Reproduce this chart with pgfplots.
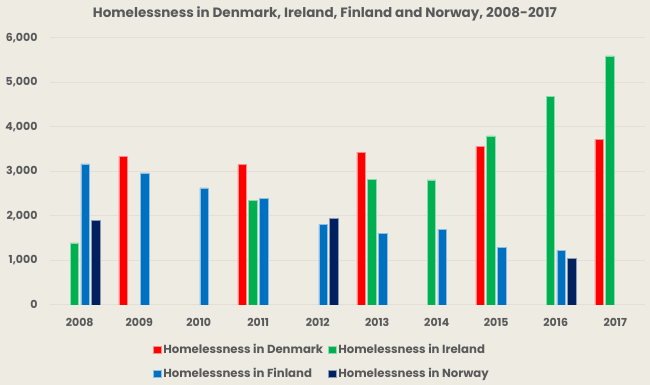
\documentclass[border=0pt]{standalone}
\usepackage{fontspec}
\setmainfont{Poppins}
\usepackage{pgfplots}
\pgfplotsset{compat=1.18}
\definecolor{bgc}{HTML}{EEEBE3}
\definecolor{gridc}{HTML}{E2DFD7}
\definecolor{txt}{HTML}{595959}
\definecolor{cden}{HTML}{FF0000}
\definecolor{cire}{HTML}{00B050}
\definecolor{cfin}{HTML}{0070C0}
\definecolor{cnor}{HTML}{002060}
\begin{document}
\begin{tikzpicture}
\fill[bgc] (-50pt,-80.2pt) rectangle (600pt,304.8pt);
\begin{axis}[
  at={(0pt,0pt)}, anchor=south west,
  scale only axis, width=595pt, height=267pt,
  ybar=2.3pt, bar width=8.5pt,
  xmin=-0.5, xmax=9.5, ymin=0, ymax=6000,
  xtick={0,...,9},
  xticklabels={2008,2009,2010,2011,2012,2013,2014,2015,2016,2017},
  ytick={0,1000,...,6000},
  ymajorgrids, grid style={gridc, line width=0.8pt},
  axis line style={draw=none},
  major tick length=0pt,
  /pgf/number format/assume math mode=true,
  /pgf/number format/1000 sep={,},
  tick label style={font=\fontsize{11}{13}\selectfont\bfseries, text=txt},
  yticklabel style={xshift=-9pt},
  xticklabel style={yshift=-10pt},
  title={Homelessness in Denmark, Ireland, Finland and Norway, 2008-2017},
  title style={font=\fontsize{13.5}{15}\selectfont\bfseries, text=txt, at={(0.462,1)}, anchor=center, yshift=17.8pt},
  legend columns=2,
  legend cell align=left,
  legend style={draw=none, fill=none, at={(0.168,-0.132)}, anchor=north west,
    font=\fontsize{11.7}{14}\selectfont\bfseries, text=txt,
    /tikz/every even column/.append style={column sep=3pt},
    row sep=9pt},
  legend image code/.code={\fill[#1] (0pt,-3.8pt) rectangle (7.6pt,3.8pt);},
]
\addplot[fill=cden, draw=cden!45!white, line width=0.5pt] coordinates {(1,3340) (3,3150) (5,3430) (7,3560) (9,3710)};
\addplot[fill=cire, draw=cire!45!white, line width=0.5pt] coordinates {(0,1390) (3,2355) (5,2820) (6,2805) (7,3795) (8,4690) (9,5595)};
\addplot[fill=cfin, draw=cfin!45!white, line width=0.5pt] coordinates {(0,3165) (1,2965) (2,2630) (3,2400) (4,1800) (5,1605) (6,1700) (7,1290) (8,1230)};
\addplot[fill=cnor, draw=cnor!45!white, line width=0.5pt] coordinates {(0,1890) (4,1950) (8,1050)};
\legend{Homelessness in Denmark,Homelessness in Ireland,Homelessness in Finland,Homelessness in Norway}
\end{axis}
\pgfresetboundingbox
\path (-50pt,-80.2pt) rectangle (600pt,304.8pt);
\end{tikzpicture}
\end{document}
